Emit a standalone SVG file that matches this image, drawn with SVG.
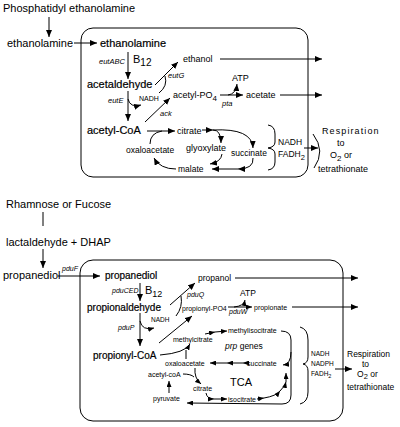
<svg xmlns="http://www.w3.org/2000/svg" width="400" height="427" viewBox="0 0 400 427">
<style>
text{font-family:"Liberation Sans",Arial,sans-serif;fill:#000}
.t11{font-size:11px}
.main{font-size:11px;stroke:#000;stroke-width:0.2}
.main2{font-size:10px;stroke:#000;stroke-width:0.2}
.s9{font-size:9px}
.s85{font-size:8.5px}
.s7{font-size:7px}
.s65{font-size:6.5px}
.it{font-style:italic;font-size:7.5px}
.it7{font-style:italic;font-size:7px}
.ln{fill:none;stroke:#000;stroke-width:1}
.a{marker-end:url(#ah)}
.b{marker-end:url(#ahs)}
.box{fill:none;stroke:#000;stroke-width:1}
</style>
<defs>
<marker id="ah" markerUnits="userSpaceOnUse" markerWidth="8" markerHeight="6" refX="7" refY="3" orient="auto"><path d="M0,0 L7,3 L0,6 z" fill="#000"/></marker>
<marker id="ahs" markerUnits="userSpaceOnUse" markerWidth="7" markerHeight="5" refX="6" refY="2.5" orient="auto"><path d="M0,0 L6,2.5 L0,5 z" fill="#000"/></marker>
</defs>
<rect x="81" y="28" width="227" height="149" rx="12" class="box"/>
<rect x="80" y="260" width="263" height="161" rx="13" class="box"/>
<g id="connectors">
<path class="ln a" d="M49,17 L49,37"/>
<path class="ln a" d="M74,43 L97,43"/>
<path class="ln a" d="M128,52 L128,79"/>
<path class="ln a" d="M128,91 L128,121"/>
<path class="ln a" d="M128,99 Q130,108 141,105"/>
<path class="ln a" d="M155,85 L178,62"/>
<path class="ln" d="M159,93 Q168,86 165,76"/>
<path class="ln a" d="M220,59 L322,59"/>
<path class="ln a" d="M145,122 L170,98"/>
<path class="ln a" d="M220,95 L243,95"/>
<path class="ln a" d="M228,95 Q236,94 237,84"/>
<path class="ln a" d="M280,95 L322,95"/>
<path class="ln a" d="M147,131 L175,131"/>
<path class="ln" d="M150,144 Q150,133 162,131"/>
<path class="ln a" d="M202,130 L213,130"/>
<path class="ln a" d="M213,130 Q221,130 221,143"/>
<path class="ln a" d="M213,130 Q252,128 253,148"/>
<path class="ln a" d="M222,154 Q221,162 210,164"/>
<path class="ln a" d="M253,158 Q254,169 238,169"/>
<path class="ln a" d="M238,169 L212,169"/>
<path class="ln a" d="M176,169 Q160,169 154,158"/>
<path class="ln" d="M268,125 Q275,126 275,134 L275,142 Q275,147 268,148 Q275,149 275,154 L275,162 Q275,169 268,170"/>
<path class="ln a" d="M304,148 L318,148"/>
<path class="ln" d="M313,134 Q326,151 314,168"/>
<path class="ln" d="M43,212 L43,226"/>
<path class="ln a" d="M43,249 L43,268"/>
<path class="ln a" d="M58,276 L100,276"/>
<path class="ln a" d="M140,283 L140,301"/>
<path class="ln a" d="M170,305 L195,283"/>
<path class="ln" d="M176,316 Q183,307 181,296"/>
<path class="ln b" d="M140,321 Q142,331 154,328"/>
<path class="ln a" d="M140,313 L140,346"/>
<path class="ln a" d="M159,343 L192,316"/>
<path class="ln b" d="M228,307 L252,307"/>
<path class="ln b" d="M234,307 Q244,306 245,300"/>
<path class="ln a" d="M292,307 L358,307"/>
<path class="ln a" d="M235,278 L358,278"/>
<path class="ln b" d="M160,355 Q185,353 190,344"/>
<path class="ln" d="M186,359 L186,350"/>
<path class="ln b" d="M205,334 L215,332"/>
<path class="ln b" d="M215,332 L227,331"/>
<path class="ln b" d="M248,363 L243,363"/>
<path class="ln b" d="M243,363 L227,363"/>
<path class="ln b" d="M227,363 L210,363"/>
<path class="ln b" d="M195,368 Q194,378 201,384"/>
<path class="ln" d="M183,374 Q191,374 194,377"/>
<path class="ln b" d="M206,393 Q207,399 214,399"/>
<path class="ln b" d="M214,399 L227,399"/>
<path class="ln b" d="M257,399 L264,398"/>
<path class="ln b" d="M264,398 Q276,396 280,391"/>
<path class="ln b" d="M280,391 Q285,386 286,382"/>
<path class="ln b" d="M286,382 L286,373"/>
<path class="ln b" d="M281,331 Q291,331 291,340 L291,395 Q291,404 282,404 L187,403"/>
<path class="ln b" d="M291,352 Q291,364 283,365"/>
<path class="ln b" d="M169,393 L169,381"/>
<path class="ln" d="M300,327 Q308,329 308,340 L308,357 Q308,363 303,364 Q308,365 308,371 L308,392 Q308,402 300,404"/>
<path class="ln a" d="M335,369 L352,369"/>
</g>
<g id="n-phosphatidyl"><text class="t11" x="3" y="12">Phosphatidyl ethanolamine</text></g>
<g id="n-ethanolamine-out"><text class="t11" x="7" y="47">ethanolamine</text></g>
<g id="n-ethanolamine"><text class="main" x="100" y="47">ethanolamine</text></g>
<g id="l-eutABC"><text class="it" x="99" y="64">eutABC</text></g>
<g id="l-b12-top"><text class="t11" x="133" y="63">B<tspan font-size="10" dy="3">12</tspan></text></g>
<g id="n-acetaldehyde"><text class="main" x="87" y="88">acetaldehyde</text></g>
<g id="l-eutG"><text class="it" x="168" y="78">eutG</text></g>
<g id="n-ethanol"><text class="s9" x="183" y="62">ethanol</text></g>
<g id="l-eutE"><text class="it" x="108" y="103">eutE</text></g>
<g id="n-nadh-top"><text class="s7" x="139" y="101">NADH</text></g>
<g id="n-acetylpo4"><text class="s9" x="173" y="98">acetyl-PO<tspan font-size="8" dy="2.5">4</tspan></text></g>
<g id="l-ack"><text class="it" x="160" y="116">ack</text></g>
<g id="n-atp-top"><text class="s9" x="232" y="81">ATP</text></g>
<g id="l-pta"><text class="it" x="222" y="106">pta</text></g>
<g id="n-acetate"><text class="s9" x="246" y="98">acetate</text></g>
<g id="n-acetylcoa"><text class="main" x="87" y="134">acetyl-CoA</text></g>
<g id="n-citrate-top"><text class="s9" x="177" y="134">citrate</text></g>
<g id="n-oaa-top"><text class="s85" x="126" y="153">oxaloacetate</text></g>
<g id="n-glyoxylate"><text class="s9" x="186" y="151">glyoxylate</text></g>
<g id="n-succinate-top"><text class="s85" x="231" y="156">succinate</text></g>
<g id="n-malate"><text class="s85" x="178" y="172">malate</text></g>
<g id="n-nadh-fadh-top"><text class="s85" x="278" y="145">NADH</text><text class="s85" x="278" y="157">FADH<tspan font-size="7.5" dy="2.5">2</tspan></text></g>
<g id="n-respiration-top">
<text class="s9" x="322" y="133.5" letter-spacing="1.1" font-size="9.5">Respiration</text>
<text class="s9" x="337" y="146" font-size="9.5">to</text>
<text class="s9" x="330" y="158" font-size="9.5">O<tspan font-size="8" dy="2.5">2</tspan><tspan dy="-2.5"> or</tspan></text>
<text class="s9" x="318" y="172" font-size="9.5">tetrathionate</text>
</g>
<g id="n-rhamnose"><text class="t11" x="6" y="207.5" font-size="9.6">Rhamnose or Fucose</text></g>
<g id="n-lactaldehyde"><text class="t11" x="6" y="245.5" font-size="9.8">lactaldehyde + DHAP</text></g>
<g id="n-propanediol-out"><text class="t11" x="3" y="279" font-size="10">propanediol</text></g>
<g id="l-pduF"><text class="it7" x="62" y="271">pduF</text></g>
<g id="n-propanediol"><text class="main2" x="105" y="279">propanediol</text></g>
<g id="l-pduCED"><text class="it7" x="112" y="292.5">pduCED</text></g>
<g id="l-b12-bot"><text class="t11" x="145" y="294" font-size="10">B<tspan font-size="9" dy="3">12</tspan></text></g>
<g id="n-propionaldehyde"><text class="main2" x="87" y="311">propionaldehyde</text></g>
<g id="n-propanol"><text class="s85" x="198" y="281">propanol</text></g>
<g id="l-pduQ"><text class="it7" x="187" y="297">pduQ</text></g>
<g id="n-nadh-bot"><text class="s65" x="151" y="322">NADH</text></g>
<g id="n-propionylpo4"><text class="s7" x="182" y="310.5">propionyl-PO4</text></g>
<g id="l-pduP"><text class="it7" x="118" y="330">pduP</text></g>
<g id="n-atp-bot"><text class="s85" x="240" y="296" font-size="8">ATP</text></g>
<g id="l-pduW"><text class="it7" x="229" y="313.5">pduW</text></g>
<g id="n-propionate"><text class="s7" x="254" y="310">propionate</text></g>
<g id="n-propionylcoa"><text class="main2" x="93" y="359">propionyl-CoA</text></g>
<g id="n-methylcitrate"><text class="s7" x="173" y="342" font-size="7.3">methylcitrate</text></g>
<g id="n-methylisocitrate"><text class="s7" x="228" y="333" font-size="7.3">methylisocitrate</text></g>
<g id="l-prp"><text class="s85" x="225" y="349"><tspan font-style="italic">prp</tspan> genes</text></g>
<g id="n-oaa-bot"><text class="s7" x="165" y="366">oxaloacetate</text></g>
<g id="n-succinate-bot"><text class="s7" x="247" y="366">succinate</text></g>
<g id="n-acetylcoa-bot"><text class="s7" x="148" y="377">acetyl-coA</text></g>
<g id="l-tca"><text class="t11" x="230" y="386" font-size="10.5">TCA</text></g>
<g id="n-citrate-bot"><text class="s7" x="193" y="391">citrate</text></g>
<g id="n-pyruvate"><text class="s7" x="153" y="401">pyruvate</text></g>
<g id="n-isocitrate"><text class="s7" x="228" y="402">isocitrate</text></g>
<g id="n-nadh-bot2"><text class="s65" x="311" y="356">NADH</text><text class="s65" x="311" y="366">NADPH</text><text class="s65" x="311" y="376">FADH<tspan font-size="5.5" dy="1.5">2</tspan></text></g>
<g id="n-respiration-bot">
<text class="s85" x="347" y="357">Respiration</text>
<text class="s85" x="362" y="367">to</text>
<text class="s85" x="357" y="377">O<tspan font-size="7.5" dy="2">2</tspan><tspan dy="-2"> or</tspan></text>
<text class="s85" x="347" y="390" font-size="9.3">tetrathionate</text>
</g>
</svg>
